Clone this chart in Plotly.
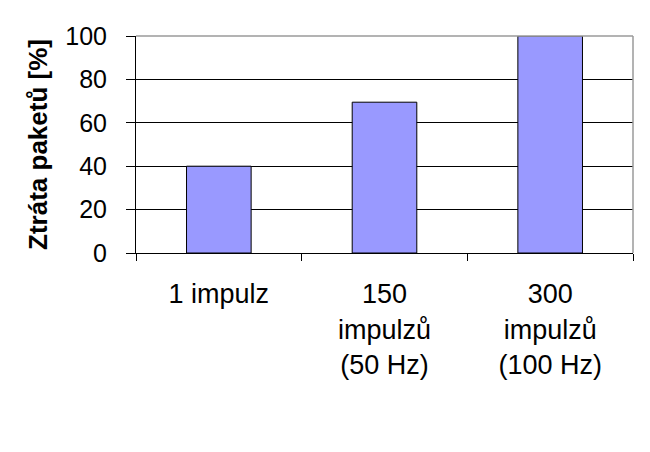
import plotly.graph_objects as go

categories = ["1 impulz", "150<br>impulzů<br>(50 Hz)", "300<br>impulzů<br>(100 Hz)"]
loss_pct = [40, 69.5, 100]
y_ticks = [0, 20, 40, 60, 80, 100]
y_title = "Ztráta paketů [%]"

font_family = "Liberation Sans, Arial, sans-serif"

fig = go.Figure(go.Bar(
    x=categories, y=loss_pct, width=0.39,
    marker=dict(color="#9999FF", line=dict(color="black", width=1)),
))

# page body has an 8px margin, compensate so the plot area lands where the reference has it
fig.update_layout(
    width=650, height=452,
    margin=dict(l=128, r=24.5, t=27.5, b=207.3, autoexpand=False),
    paper_bgcolor="white", plot_bgcolor="white",
    showlegend=False,
    font=dict(family=font_family, color="black", size=24),
)

fig.update_yaxes(
    range=[0, 100], tickvals=y_ticks, ticktext=[str(v) for v in y_ticks],
    showgrid=True, gridcolor="black", gridwidth=1,
    showline=True, linecolor="black", linewidth=1,
    ticks="outside", ticklen=9, tickcolor="black", tickwidth=1,
    ticklabelstandoff=14,
    tickfont=dict(size=25),
    zeroline=False, automargin=False,
    title=dict(text="<b>" + y_title + "</b>", font=dict(size=26), standoff=10),
)

fig.update_xaxes(
    type="category",
    showline=True, linecolor="black", linewidth=1,
    ticks="outside", ticklen=7, tickcolor="black", tickwidth=1,
    tickson="boundaries",
    ticklabelstandoff=17,
    tickfont=dict(size=27),
    showgrid=False, automargin=False,
)

# gray plot-area border (top and right)
fig.add_shape(type="line", xref="paper", yref="paper", x0=0, x1=1, y0=1, y1=1,
              line=dict(color="#9a9a9a", width=1.5), layer="above")
fig.add_shape(type="line", xref="paper", yref="paper", x0=1, x1=1, y0=0, y1=1,
              line=dict(color="#9a9a9a", width=1.5), layer="above")

fig.write_html("out.html")
